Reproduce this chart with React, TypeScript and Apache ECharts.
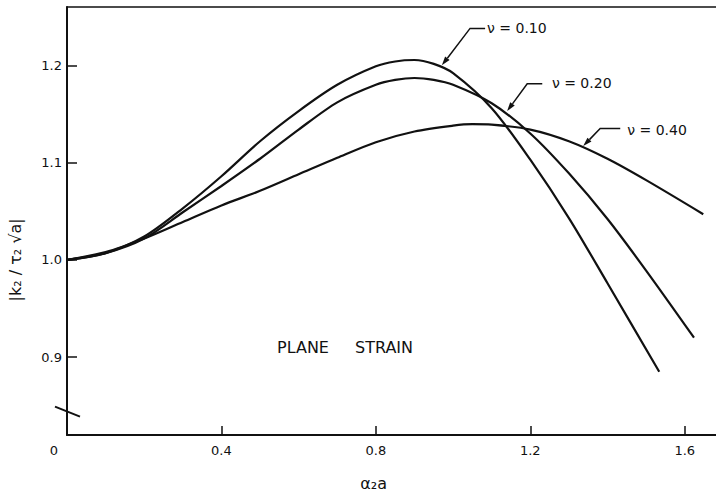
import React, { useEffect, useRef } from "react";
import * as echarts from "echarts";

const X_TICKS = [0.4, 0.8, 1.2, 1.6];
const Y_TICKS = [0.9, 1.0, 1.1, 1.2];

const NU010_X = [0, 0.1, 0.2, 0.3, 0.4, 0.5, 0.6, 0.7, 0.8, 0.85, 0.9, 0.95, 1.0, 1.1, 1.2, 1.3, 1.4, 1.534];
const NU010_Y = [1.0, 1.007, 1.024, 1.053, 1.086, 1.122, 1.153, 1.18, 1.199, 1.204, 1.2055, 1.2015, 1.192, 1.156, 1.103, 1.043, 0.976, 0.885];

const NU020_X = [0, 0.1, 0.2, 0.3, 0.4, 0.5, 0.6, 0.7, 0.8, 0.85, 0.9, 0.95, 1.0, 1.1, 1.2, 1.3, 1.4, 1.5, 1.624];
const NU020_Y = [1.0, 1.007, 1.022, 1.049, 1.076, 1.104, 1.134, 1.162, 1.18, 1.185, 1.187, 1.185, 1.18, 1.161, 1.13, 1.089, 1.042, 0.989, 0.92];

const NU040_X = [0, 0.1, 0.2, 0.3, 0.4, 0.5, 0.6, 0.7, 0.8, 0.9, 1.0, 1.05, 1.1, 1.2, 1.3, 1.4, 1.5, 1.648];
const NU040_Y = [1.0, 1.008, 1.022, 1.039, 1.056, 1.071, 1.088, 1.105, 1.121, 1.132, 1.138, 1.1395, 1.139, 1.134, 1.122, 1.104, 1.082, 1.047];

const LABELS = ["ν = 0.10", "ν = 0.20", "ν = 0.40"];
const ARROW_TIPS = [[0.971, 1.2], [1.14, 1.153], [1.337, 1.117]];
const ARROW_ELBOWS = [[1.044, 1.238], [1.192, 1.181], [1.381, 1.135]];
const LEADER_ENDS = [[1.083, 1.238], [1.231, 1.181], [1.433, 1.135]];
const LABEL_POS = [[1.088, 1.238], [1.256, 1.182], [1.451, 1.134]];

const FONT = "DejaVu Sans";

function pairs(xs: number[], ys: number[]) {
  return xs.map((x, i) => [x, ys[i]]);
}

export default function App() {
  const ref = useRef<HTMLDivElement>(null);
  useEffect(() => {
    const chart = echarts.init(ref.current!, null, { renderer: "svg", width: 716, height: 493 });
    const lineSeries = (name: string, data: number[][]) => ({
      name,
      type: "line",
      data,
      smooth: 0.3,
      showSymbol: false,
      symbol: "none",
      lineStyle: { color: "#111", width: 2.2 },
      z: 3,
    });
    chart.setOption({
      animation: false,
      backgroundColor: "#fff",
      grid: { left: 67, right: 0, top: 7, bottom: 58 },
      xAxis: [
        {
          type: "value",
          min: 0,
          max: 1.681,
          axisLine: { show: true, lineStyle: { color: "#111", width: 2 } },
          axisTick: { show: true, inside: true, length: 9, customValues: X_TICKS, lineStyle: { color: "#111", width: 1.5 } },
          axisLabel: {
            customValues: X_TICKS,
            formatter: (v: number) => v.toFixed(1),
            color: "#111",
            fontFamily: FONT,
            fontSize: 13,
            margin: 9,
          },
          splitLine: { show: false },
        },
        {
          type: "value",
          position: "top",
          min: 0,
          max: 1.681,
          axisLine: { show: true, onZero: false, lineStyle: { color: "#111", width: 1.5 } },
          axisTick: { show: false },
          axisLabel: { show: false },
          splitLine: { show: false },
        },
      ],
      yAxis: {
        type: "value",
        min: 0.82,
        max: 1.26,
        axisLine: { show: true, lineStyle: { color: "#111", width: 2 } },
        axisTick: { show: true, inside: true, length: 10, customValues: Y_TICKS, lineStyle: { color: "#111", width: 1.5 } },
        axisLabel: {
          customValues: Y_TICKS,
          formatter: (v: number) => v.toFixed(1),
          color: "#111",
          fontFamily: FONT,
          fontSize: 13,
          margin: 5,
        },
        splitLine: { show: false },
      },
      series: [
        lineSeries("ν = 0.10", pairs(NU010_X, NU010_Y)),
        lineSeries("ν = 0.20", pairs(NU020_X, NU020_Y)),
        lineSeries("ν = 0.40", pairs(NU040_X, NU040_Y)),
      ],
    });

    const toPx = (p: number[]) => chart.convertToPixel({ xAxisIndex: 0, yAxisIndex: 0 }, p) as number[];
    const graphics: any[] = [];
    for (let i = 0; i < LABELS.length; i++) {
      const tip = toPx(ARROW_TIPS[i]);
      const elbow = toPx(ARROW_ELBOWS[i]);
      const end = toPx(LEADER_ENDS[i]);
      const lp = toPx(LABEL_POS[i]);
      const dx = tip[0] - elbow[0];
      const dy = tip[1] - elbow[1];
      const len = Math.sqrt(dx * dx + dy * dy);
      const ux = dx / len;
      const uy = dy / len;
      const aL = 9;
      const aW = 2.8;
      const bx = tip[0] - ux * aL;
      const by = tip[1] - uy * aL;
      graphics.push({
        type: "polyline",
        shape: { points: [end, elbow, [bx, by]] },
        style: { stroke: "#111", lineWidth: 1.5, fill: null },
        z: 10,
      });
      graphics.push({
        type: "polygon",
        shape: { points: [tip, [bx - uy * aW, by + ux * aW], [bx + uy * aW, by - ux * aW]] },
        style: { fill: "#111" },
        z: 10,
      });
      graphics.push({
        type: "text",
        x: lp[0],
        y: lp[1],
        style: { text: LABELS[i], fill: "#111", font: `14px '${FONT}'`, textAlign: "left", textVerticalAlign: "middle" },
        z: 10,
      });
    }
    const plane = toPx([0.544, 0.91]);
    const strain = toPx([0.746, 0.91]);
    graphics.push({
      type: "text",
      x: plane[0],
      y: plane[1],
      style: { text: "PLANE", fill: "#111", font: `16px '${FONT}'`, textAlign: "left", textVerticalAlign: "middle" },
    });
    graphics.push({
      type: "text",
      x: strain[0],
      y: strain[1],
      style: { text: "STRAIN", fill: "#111", font: `16px '${FONT}'`, textAlign: "left", textVerticalAlign: "middle" },
    });
    const zero = toPx([0, 0.82]);
    graphics.push({
      type: "text",
      x: zero[0] - 13,
      y: zero[1] + 15,
      style: { text: "0", fill: "#111", font: `13px '${FONT}'`, textAlign: "center", textVerticalAlign: "middle" },
    });
    const brk = toPx([0, 0.843]);
    graphics.push({
      type: "line",
      shape: { x1: brk[0] - 12, y1: brk[1] - 6, x2: brk[0] + 13, y2: brk[1] + 4 },
      style: { stroke: "#111", lineWidth: 2 },
    });
    const mid = toPx([0.794, 0.82]);
    graphics.push({
      type: "text",
      x: mid[0],
      y: mid[1] + 48,
      style: { text: "α₂a", fill: "#111", font: `16px '${FONT}'`, textAlign: "center", textVerticalAlign: "middle" },
    });
    const yMid = toPx([0, 1.0]);
    graphics.push({
      type: "text",
      x: 15,
      y: yMid[1],
      rotation: Math.PI / 2,
      style: { text: "|k₂ / τ₂ √a|", fill: "#111", font: `16px '${FONT}'`, textAlign: "center", textVerticalAlign: "middle" },
    });
    chart.setOption({ graphic: graphics });
    return () => chart.dispose();
  }, []);
  return (
    <div
      ref={ref}
      style={{ position: "absolute", left: 0, top: 0, width: 716, height: 493, background: "#fff" }}
    />
  );
}
